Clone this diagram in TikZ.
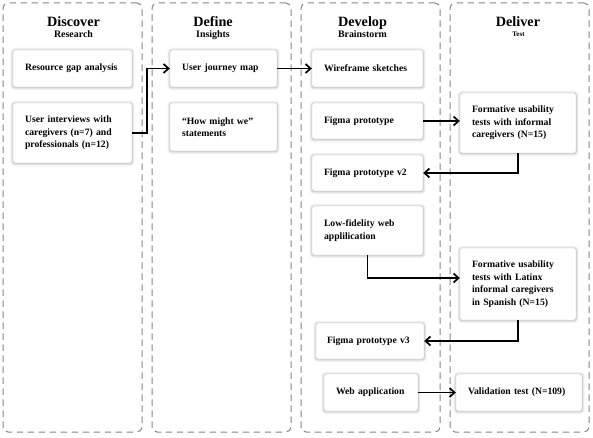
\documentclass[tikz,border=0pt]{standalone}
\usepackage{fontspec}
\setmainfont{Liberation Serif}
\usetikzlibrary{positioning,arrows.meta,shadows.blur}
\definecolor{laneline}{HTML}{858585}
\definecolor{cardline}{HTML}{C4C4C4}

\begin{document}
\begin{tikzpicture}[x=1pt,y=1pt,
  lane/.style={draw=laneline,dash pattern=on 6.5pt off 4.5pt,line width=1pt,
               rounded corners=5pt,minimum width=139pt,minimum height=429pt,inner sep=0pt},
  phase/.style={font=\fontsize{14.2}{16}\selectfont\bfseries,anchor=base},
  sub/.style={font=\fontsize{9.9}{11}\selectfont\bfseries,anchor=base},
  card/.style={draw=cardline,fill=white,rounded corners=2pt,align=left,
               inner xsep=12pt,inner ysep=0pt,font=\fontsize{9.7}{12.5}\selectfont\bfseries,
               blur shadow={shadow xshift=0pt,shadow yshift=-0.5pt,shadow blur steps=6,
                            shadow blur radius=3pt,shadow opacity=35}},
  arr/.style={-{Straight Barb[length=5pt,width=9pt]},line width=1.7pt,black}
]
\useasboundingbox (0,0) rectangle (593,-438);

% the four phase lanes
\node[lane] (lane1) at (72.5,-217.5) {};
\node[lane] (lane2) at (221.5,-217.5) {};
\node[lane] (lane3) at (370.5,-217.5) {};
\node[lane] (lane4) at (519.5,-217.5) {};

\node[phase] (discover) at (73.5,-27) {Discover};
\node[sub] (research) at (73.5,-38) {Research};
\node[phase] (define) at (213,-27) {Define};
\node[sub] (insights) at (213,-38) {Insights};
\node[phase] (develop) at (362.5,-27) {Develop};
\node[sub] (brainstorm) at (362.5,-38) {Brainstorm};
\node[phase] (deliver) at (518,-27) {Deliver};
\node[sub,font=\fontsize{7}{8}\selectfont\bfseries] (test) at (518.5,-37) {Test};

% column 1: discover
\node[card,text width=95pt,minimum height=37pt] (gap) at (72.5,-68.5)
  {Resource gap analysis};
\node[card,text width=95pt,minimum height=60pt] (interviews) at (72.5,-133)
  {User interviews with\\ caregivers (n=7) and\\ professionals (n=12)};

% column 2: define
\node[card,text width=83pt,minimum height=37pt] (journey) at (223.5,-68.5)
  {User journey map};
\node[card,text width=83pt,minimum height=48pt] (hmw) at (223.5,-127)
  {``How might we''\\ statements};

% column 3: develop
\node[card,text width=87pt,minimum height=37pt] (wireframe) at (367.5,-68.5)
  {Wireframe sketches};
\node[card,text width=87pt,minimum height=36pt] (proto1) at (367.5,-121)
  {Figma prototype};
\node[card,text width=87pt,minimum height=36pt] (proto2) at (367.5,-173)
  {Figma prototype v2};
\node[card,text width=87pt,minimum height=49pt] (lofi) at (367.5,-230.5)
  {Low-fidelity web\\ applilication};
\node[card,text width=86pt,inner xsep=11pt,minimum height=36pt] (proto3) at (370,-341)
  {Figma prototype v3};
\node[card,text width=70pt,minimum height=37pt] (webapp) at (371,-392.5)
  {Web application};

% column 4: deliver
\node[card,text width=92pt,minimum height=60pt] (usab1) at (518,-123)
  {Formative usability\\ tests with informal\\ caregivers (N=15)};
\node[card,text width=92pt,minimum height=72pt] (usab2) at (518,-284)
  {Formative usability\\ tests with Latinx\\ informal caregivers\\ in Spanish (N=15)};
\node[card,text width=102pt,minimum height=37pt] (validation) at (519,-392.5)
  {Validation test (N=109)};

\draw[arr] (interviews.east) -- ++(15,0) |- (journey.west);
\draw[arr] (journey) -- (wireframe);
\draw[arr] (proto1.east) -- (proto1.east -| usab1.west);
\draw[arr] (usab1.south) |- (proto2.east);
\draw[arr] (lofi.south) |- ([yshift=6pt]usab2.west);
\draw[arr] (usab2.south) |- (proto3.east);
\draw[arr] (webapp) -- (validation);
\end{tikzpicture}
\end{document}
